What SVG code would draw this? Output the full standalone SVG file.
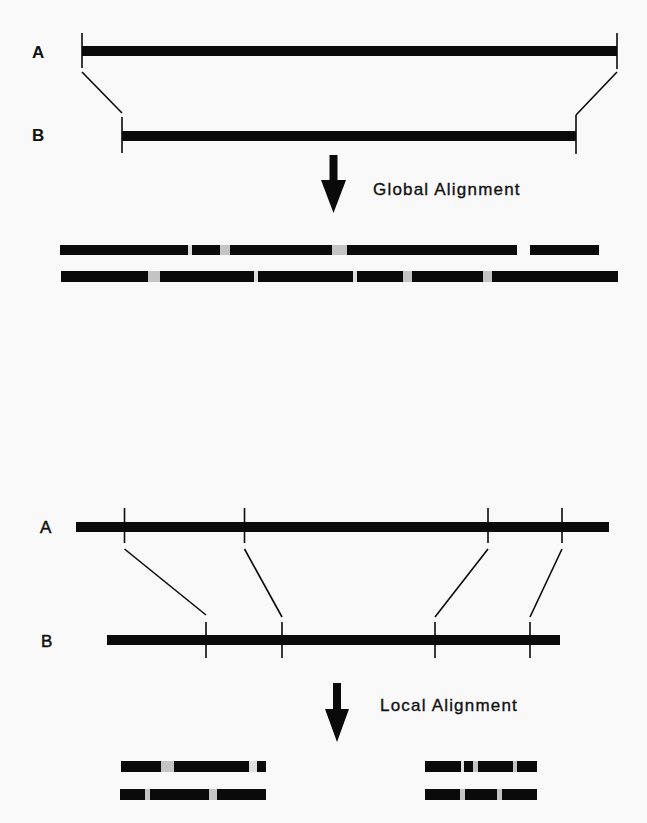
<svg xmlns="http://www.w3.org/2000/svg" width="647" height="823" viewBox="0 0 647 823">
<style>
.bar{fill:#0a0a0a}
.gap{fill:#c4c4c4}
.lgap{fill:#dedede}
.tick{stroke:#0a0a0a;stroke-width:1.6;fill:none}
.conn{stroke:#0a0a0a;stroke-width:1.6;fill:none}
.lbl{font-family:"Liberation Sans",Arial,sans-serif;font-size:17px;font-weight:bold;fill:#111}
.lbl2{font-family:"Liberation Sans",Arial,sans-serif;font-size:17px;fill:#111;stroke:#111;stroke-width:0.5}
.cap{font-family:"Liberation Sans",Arial,sans-serif;font-size:17px;letter-spacing:1.2px;fill:#111;stroke:#111;stroke-width:0.35}
.arrow{fill:#0a0a0a}
</style>
<rect width="647" height="823" fill="#f9f9f9"/>

<!-- Global section -->
<g id="global-seqA">
<text class="lbl" x="32" y="58">A</text>
<rect class="bar" x="82" y="46" width="535" height="10"/>
<line class="tick" x1="82" y1="33" x2="82" y2="68"/>
<line class="tick" x1="617" y1="33" x2="617" y2="69"/>
</g>
<g id="global-seqB">
<text class="lbl" x="32" y="141">B</text>
<rect class="bar" x="122" y="131" width="454" height="10"/>
<line class="tick" x1="122" y1="117" x2="122" y2="153"/>
<line class="tick" x1="576" y1="115" x2="576" y2="154"/>
</g>
<g id="global-arrow">
<rect class="arrow" x="329.5" y="155" width="8" height="27"/>
<polygon class="arrow" points="321,180 346,180 333.5,213"/>
<text class="cap" x="373" y="195">Global Alignment</text>
</g>
<g id="global-result-A">
<rect class="bar" x="60" y="245" width="128" height="10"/>
<rect class="lgap" x="188" y="245" width="4" height="10"/>
<rect class="bar" x="192" y="245" width="28" height="10"/>
<rect class="gap" x="220" y="245" width="10" height="10"/>
<rect class="bar" x="230" y="245" width="102" height="10"/>
<rect class="gap" x="332" y="245" width="15" height="10"/>
<rect class="bar" x="347" y="245" width="170" height="10"/>
<rect class="bar" x="530" y="245" width="69" height="10"/>
</g>
<g id="global-result-B">
<rect class="bar" x="61" y="271" width="87" height="11"/>
<rect class="gap" x="148" y="271" width="12" height="11"/>
<rect class="bar" x="160" y="271" width="94" height="11"/>
<rect class="lgap" x="254" y="271" width="4" height="11"/>
<rect class="bar" x="258" y="271" width="95" height="11"/>
<rect class="lgap" x="353" y="271" width="4" height="11"/>
<rect class="bar" x="357" y="271" width="46" height="11"/>
<rect class="gap" x="403" y="271" width="9" height="11"/>
<rect class="bar" x="412" y="271" width="71" height="11"/>
<rect class="gap" x="483" y="271" width="9" height="11"/>
<rect class="bar" x="492" y="271" width="126" height="11"/>
</g>

<!-- Local section -->
<g id="local-seqA">
<text class="lbl2" x="40" y="533">A</text>
<rect class="bar" x="76" y="522" width="533" height="10"/>
<line class="tick" x1="124.5" y1="508" x2="124.5" y2="543"/>
<line class="tick" x1="244.5" y1="508" x2="244.5" y2="543"/>
<line class="tick" x1="488" y1="508" x2="488" y2="543"/>
<line class="tick" x1="562" y1="508" x2="562" y2="543"/>
</g>
<g id="local-seqB">
<text class="lbl2" x="41" y="647">B</text>
<rect class="bar" x="107" y="635" width="453" height="10"/>
<line class="tick" x1="206" y1="622" x2="206" y2="658"/>
<line class="tick" x1="282" y1="622" x2="282" y2="658"/>
<line class="tick" x1="435" y1="622" x2="435" y2="658"/>
<line class="tick" x1="530" y1="622" x2="530" y2="658"/>
</g>
<g id="local-arrow">
<rect class="arrow" x="333" y="683" width="8" height="28"/>
<polygon class="arrow" points="325,709 349,709 337,742"/>
<text class="cap" x="380" y="711">Local Alignment</text>
</g>
<g id="local-result-left">
<rect class="bar" x="121" y="761" width="40" height="11"/>
<rect class="gap" x="161" y="761" width="13" height="11"/>
<rect class="bar" x="174" y="761" width="75" height="11"/>
<rect class="lgap" x="249" y="761" width="8" height="11"/>
<rect class="bar" x="257" y="761" width="9" height="11"/>
<rect class="bar" x="120" y="789" width="25" height="11"/>
<rect class="gap" x="145" y="789" width="5" height="11"/>
<rect class="bar" x="150" y="789" width="59" height="11"/>
<rect class="gap" x="209" y="789" width="8" height="11"/>
<rect class="bar" x="217" y="789" width="49" height="11"/>
</g>
<g id="local-result-right">
<rect class="bar" x="425" y="761" width="36" height="11"/>
<rect class="lgap" x="461" y="761" width="3" height="11"/>
<rect class="bar" x="464" y="761" width="9" height="11"/>
<rect class="gap" x="473" y="761" width="5" height="11"/>
<rect class="bar" x="478" y="761" width="35" height="11"/>
<rect class="gap" x="513" y="761" width="4" height="11"/>
<rect class="bar" x="517" y="761" width="20" height="11"/>
<rect class="bar" x="425" y="789" width="35" height="11"/>
<rect class="gap" x="460" y="789" width="5" height="11"/>
<rect class="bar" x="465" y="789" width="32" height="11"/>
<rect class="gap" x="497" y="789" width="5" height="11"/>
<rect class="bar" x="502" y="789" width="35" height="11"/>
</g>

<g id="connectors">
<line class="conn" x1="82" y1="72" x2="122" y2="113"/>
<line class="conn" x1="617" y1="72" x2="576" y2="115"/>
<line class="conn" x1="124.5" y1="549" x2="206" y2="615"/>
<line class="conn" x1="244.5" y1="549" x2="282" y2="617"/>
<line class="conn" x1="488" y1="549" x2="435" y2="617"/>
<line class="conn" x1="562" y1="549" x2="530" y2="617"/>
</g>
</svg>
